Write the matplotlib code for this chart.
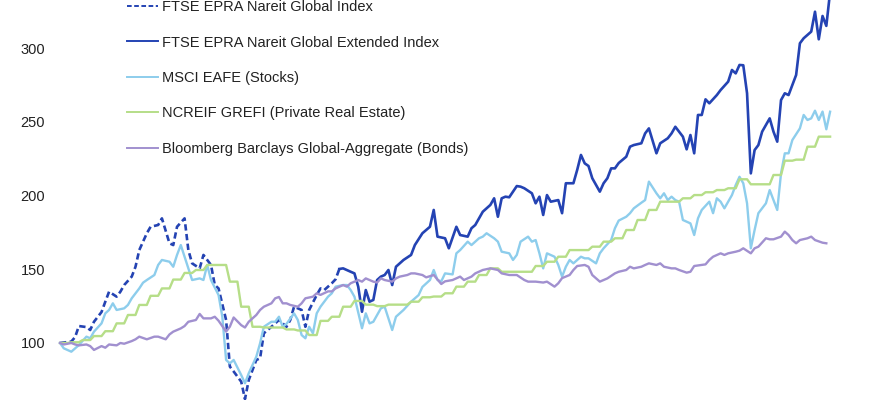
import matplotlib
matplotlib.use("Agg")
import matplotlib.pyplot as plt
import numpy as np

plt.rcParams['font.family'] = ['Liberation Sans', 'DejaVu Sans']

# x values are months since Dec 2004 (index = 100 at start)

# FTSE EPRA Nareit Global Index (dashed, early period)
glob_m = [0, 3, 4, 5, 7, 8, 9, 11, 12, 13, 15, 16, 17, 19, 20, 21, 23, 24, 26, 27,
          29, 30, 31, 33, 34, 35, 37, 38, 40, 41, 42, 44, 45, 46, 48, 49, 50, 52, 53, 54,
          56, 57, 58, 60, 61, 62, 64, 65, 66, 68, 69, 70, 72, 73, 74]
glob_v = [100, 101, 104, 111.5, 110.8, 108.8, 114.4, 121, 128, 134.8, 131.4, 134.8, 139.3, 145, 151.7, 163, 174.4, 178.8, 180, 184.5,
          167.6, 166.4, 178.8, 184.5, 163, 154, 150.6, 159.7, 152.9, 139.3, 137, 115.6, 84, 80.7, 73.8, 62, 74.9, 88.5, 89.6, 106.6,
          111, 113.3, 115.6, 111, 115.6, 124.6, 122.4, 111, 122.4, 132.5, 137, 135.9, 140.5, 143.2, 150.2]

# FTSE EPRA Nareit Global Extended Index (solid, later period)
ext_m = [74, 75, 77, 78, 79, 80, 81, 82, 83, 84, 85, 86, 87, 88, 89, 91, 93, 94, 96, 98,
         99, 100, 102, 103, 105, 106, 108, 109, 110, 112, 114, 115, 116, 117, 118, 119, 121, 122, 123, 125,
         126, 127, 128, 129, 130, 132, 133, 134, 136, 137, 138, 139, 140, 141, 143, 144, 145, 146, 147, 148,
         150, 151, 152, 154, 155, 156, 158, 159, 161, 162, 163, 165, 166, 167, 168, 169, 170, 171, 172, 174,
         175, 177, 178, 179, 180, 181, 182, 183, 184, 185, 186, 188, 189, 190, 191, 192, 193, 195, 196, 197,
         199, 200, 201, 202, 203, 204]
ext_v = [150.2, 150.6, 148.3, 147.2, 138.2, 121.2, 135.9, 128, 129.2, 142.7, 145, 146.1, 149.5, 139.3, 151.7, 156.3, 159.7, 166.4, 174.4, 178.8,
         190.2, 172.1, 171, 164.2, 178.8, 173.2, 172.1, 177.8, 180, 189, 193.6, 198.1, 185.6, 198.1, 199.2, 198.8, 206.4, 206, 204.9, 201.5,
         194.7, 199.2, 186.8, 200.3, 195.8, 196.9, 188, 208.3, 208.3, 217.3, 227.5, 221.8, 220, 211.7, 202.6, 208.3, 211.7, 218.4, 218.4, 222,
         226.3, 233.1, 234.2, 235.4, 242.1, 245.5, 228.6, 235.4, 238.8, 242.1, 246.6, 239.9, 231.3, 241, 228.6, 254.6, 254.6, 265.2, 262.5, 268.1,
         271.5, 277.2, 285.1, 282.8, 288.5, 288.3, 269.3, 215, 230.8, 234.2, 243.3, 252.3, 243.3, 236.5, 264.7, 269.3, 268.1, 281.7, 303.2, 306.6,
         311.1, 324.6, 305.9, 321.7, 315, 338]

# MSCI EAFE (Stocks)
eafe_m = [0, 1, 3, 4, 5, 7, 8, 9, 11, 12, 13, 14, 15, 17, 18, 19, 21, 22, 23, 25,
          26, 27, 29, 30, 31, 32, 33, 34, 35, 37, 38, 39, 40, 42, 43, 44, 45, 46, 48, 49,
          50, 52, 53, 54, 56, 57, 58, 59, 60, 62, 63, 64, 65, 66, 67, 68, 69, 71, 72, 73,
          75, 76, 77, 78, 80, 81, 82, 83, 85, 86, 88, 89, 91, 93, 95, 96, 98, 99, 100, 101,
          102, 104, 105, 106, 108, 109, 111, 112, 113, 115, 116, 117, 119, 120, 121, 122, 124, 125, 126, 127,
          128, 129, 131, 132, 133, 134, 135, 136, 138, 139, 140, 142, 143, 144, 146, 147, 148, 150, 151, 152,
          154, 155, 156, 158, 159, 160, 161, 162, 163, 164, 165, 167, 168, 169, 170, 172, 173, 174, 175, 176,
          178, 179, 180, 181, 182, 183, 184, 185, 187, 188, 189, 190, 191, 192, 193, 194, 196, 197, 198, 199,
          200, 201, 202, 203, 204]
eafe_v = [100, 96.4, 94.1, 96.4, 98.6, 104.3, 103.2, 107.7, 113.3, 120.1, 122.4, 126.9, 122.4, 123.5, 125.8, 130.3, 137, 140.9, 142.7, 146.1,
          152.9, 156.3, 155.1, 151.7, 159.7, 166.4, 158.5, 150.6, 142.7, 143.8, 142.7, 152.9, 142.7, 132.5, 117.8, 88.5, 86.2, 88.5, 78.3, 72.7,
          79.5, 90.7, 99.8, 111, 114.4, 114.4, 117.8, 111, 113, 120.1, 115.6, 105.4, 103.2, 111, 106.6, 120.1, 124.6, 131.4, 133.7, 138.2,
          139.3, 139.3, 135.9, 131.4, 110, 120.1, 113.3, 114.4, 123.5, 124.6, 108.8, 117.8, 122.4, 128, 132.5, 138, 142.7, 149.5, 142.7, 141.8,
          147.2, 146.5, 160.8, 163, 168.7, 166.4, 171, 172.1, 174.4, 171, 168.7, 161.9, 160.8, 156.3, 159.7, 168.7, 172.1, 168.7, 169.8, 160.8,
          150.6, 160.8, 158.5, 152.9, 145, 151.7, 156.3, 154, 158.5, 157.4, 157.4, 154, 160.8, 164.2, 169.8, 177.8, 183, 185.6, 188, 191.3,
          195.1, 196.9, 209.4, 201.5, 198.1, 201.5, 196.9, 199.2, 196.9, 195.8, 183.4, 181.1, 173.2, 184.5, 190.2, 195.8, 188, 198.1, 195.8, 191.3,
          200.3, 207.1, 212.7, 208.3, 194.7, 164.2, 176.6, 188, 194.7, 203.7, 196.9, 190.2, 215, 228.6, 228.6, 237.6, 245.5, 254.6, 251.2, 252.3,
          257.5, 251.2, 256.9, 244.9, 256.8]

# NCREIF GREFI (Private Real Estate), quarterly
ncreif_q = list(range(0, 205, 3))
ncreif_v = [100, 100.5, 102, 104.7, 108, 113.3, 119, 125.8, 132, 137, 143, 147.5, 149.5, 152.9, 152.9, 141.6, 124.6, 111, 110.5, 110.5,
            109.2, 108.5, 105.4, 115, 117.8, 124.6, 128.5, 126, 125, 126, 126, 128, 131, 131.5, 133.7, 138.2, 141.6, 146.1, 150.6, 148.3,
            148.3, 148.3, 152.2, 155.1, 158.5, 163, 163, 165.3, 168.7, 171, 176.6, 183.4, 190.2, 195.8, 195.8, 198.1, 200.3, 202.2, 203.7, 204.9,
            211, 207.6, 207.6, 213.9, 223.6, 224.3, 233.1, 239.9, 239.9]

# Bloomberg Barclays Global-Aggregate (Bonds)
bond_m = [0, 1, 3, 4, 5, 7, 8, 9, 11, 12, 13, 15, 16, 17, 19, 20, 21, 23, 24, 25,
          26, 28, 29, 30, 32, 33, 34, 36, 37, 38, 40, 41, 42, 44, 45, 46, 48, 49, 50, 52,
          53, 54, 56, 57, 58, 59, 60, 61, 63, 64, 65, 67, 68, 69, 71, 72, 73, 75, 76, 77,
          79, 80, 81, 83, 84, 85, 86, 88, 89, 90, 92, 93, 94, 96, 97, 99, 101, 102, 104, 106,
          107, 109, 110, 112, 114, 116, 117, 119, 121, 123, 124, 126, 128, 129, 131, 132, 133, 135, 136, 137,
          139, 140, 141, 143, 144, 145, 147, 148, 150, 151, 152, 154, 155, 156, 158, 159, 160, 162, 163, 164,
          166, 167, 168, 170, 171, 172, 173, 175, 176, 177, 179, 180, 181, 183, 184, 185, 187, 188, 189, 191,
          192, 193, 194, 195, 196, 198, 199, 200, 202, 203]
bond_v = [100, 99, 100, 99, 98.4, 99, 97.9, 95.3, 97.9, 96.8, 99, 98.4, 100, 99.5, 101.3, 102.5, 104.3, 102.5, 103.4, 104.3,
          104.3, 102.5, 105.8, 107.7, 109.9, 111.5, 114.4, 115.6, 119.7, 116.7, 116.7, 117.8, 115.1, 107.7, 111.1, 117.3, 112.1, 110.5, 114.4, 119,
          122.4, 124.6, 126.9, 130.3, 131.2, 126.9, 126.9, 125.8, 124.6, 126.9, 130.3, 131.4, 133.7, 132.6, 135, 135, 137, 139.3, 138.2, 140.5,
          142.7, 141.6, 143.8, 141.6, 141, 143.8, 142.7, 141.6, 143.8, 145, 146.1, 147.2, 147.2, 146.1, 144.5, 146.1, 140, 141.8, 142.7, 145,
          142.7, 145, 147.2, 149.5, 150.6, 149.5, 147.2, 146.1, 146.1, 142.7, 141.6, 141.6, 141, 141.6, 138.2, 140.5, 144, 146.1, 149.5, 152.2,
          152.9, 151.7, 146.1, 141.6, 142.7, 143.8, 147.2, 148.3, 149.5, 151.7, 150.6, 151.7, 152.9, 154, 152.9, 154, 151.7, 150.6, 150.6, 149.5,
          147.7, 148.3, 152.2, 152.9, 153.3, 156.3, 158.5, 160.8, 159.7, 160.8, 161.9, 162.6, 164.2, 160.8, 164.2, 165.3, 171, 170.3, 170.3, 172.1,
          175.5, 173.2, 169.8, 167.6, 169.8, 171, 172.1, 169.8, 168, 167.6]

yticks = [100, 150, 200, 250, 300]

dark_blue = '#2443b3'
light_blue = '#8dcdec'
green = '#b6de88'
purple = '#a190cf'

# quarterly values held through the quarter (flat, then a one-month riser)
q = np.array(ncreif_q)
ncreif_x = np.column_stack([q, q + 2]).ravel()[:-1]
ncreif_y = np.repeat(ncreif_v, 2)[:-1]

fig = plt.figure(figsize=(8.7, 4.0), dpi=100)
ax = fig.add_axes([52 / 870, 0, 818 / 870, 1])

ax.plot(glob_m, glob_v, color=dark_blue, lw=1.9, dashes=(2.4, 1.3),
        label='FTSE EPRA Nareit Global Index')
ax.plot(ext_m, ext_v, color=dark_blue, lw=1.9,
        label='FTSE EPRA Nareit Global Extended Index')
ax.plot(eafe_m, eafe_v, color=light_blue, lw=1.7, label='MSCI EAFE (Stocks)')
ax.plot(ncreif_x, ncreif_y, color=green, lw=1.7,
        label='NCREIF GREFI (Private Real Estate)')
ax.plot(bond_m, bond_v, color=purple, lw=1.7,
        label='Bloomberg Barclays Global-Aggregate (Bonds)')

ax.set_xlim(-8 / 3.775, 810 / 3.775)
ax.set_ylim(100 - 57 / 1.475, 100 + 343 / 1.475)
ax.set_yticks(yticks)
ax.set_yticklabels([str(t) for t in yticks])
ax.set_xticks([])
ax.tick_params(axis='y', length=0, pad=5, labelsize=10.5, labelcolor='#222222')
for s in ax.spines.values():
    s.set_visible(False)

leg = ax.legend(loc='center left', bbox_to_anchor=(127 / 870, 1 - 78 / 400),
                bbox_transform=fig.transFigure, frameon=False, fontsize=10.5,
                borderpad=0, borderaxespad=0, labelspacing=1.47,
                handlelength=2.1, handletextpad=0.3)
for t in leg.get_texts():
    t.set_color('#222222')
for h in leg.get_lines():
    h.set_linewidth(1.4)

fig.savefig('out.png', dpi=100)
